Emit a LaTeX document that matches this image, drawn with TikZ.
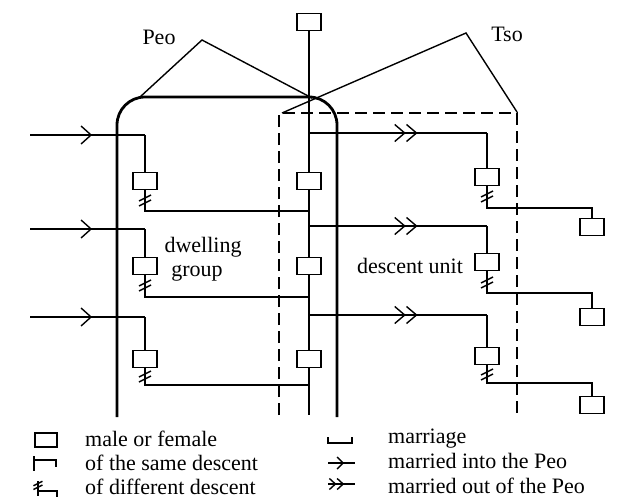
\documentclass[tikz,border=0pt]{standalone}
\usepackage{fontspec}
\setmainfont{Liberation Serif}
\usetikzlibrary{arrows.meta,decorations.markings,positioning}

\tikzset{
  person/.style={draw,line width=1.4pt,minimum width=24pt,minimum height=17pt,inner sep=0},
  kin/.style={line width=1.4pt},
  peoline/.style={line width=2.8pt,rounded corners=28pt},
  tsoline/.style={line width=2.2pt,dash pattern=on 12pt off 6pt},
  into/.style={kin,postaction={decorate},decoration={markings,
    mark=at position #1 with {\arrow{Straight Barb[length=10pt,width=18pt]}}}},
  outof/.style={kin,postaction={decorate},decoration={markings,
    mark=at position #1 with {\arrow{Straight Barb[length=10pt,width=17pt] Straight Barb[length=10pt,width=17pt]}}}},
  lginto/.style={kin,postaction={decorate},decoration={markings,
    mark=at position #1 with {\arrow{Straight Barb[length=6pt,width=12pt]}}}},
  lgout/.style={kin,postaction={decorate},decoration={markings,
    mark=at position #1 with {\arrow{Straight Barb[length=6pt,width=11pt] Straight Barb[length=6pt,width=11pt]}}}},
  lbl/.style={font=\fontsize{22}{26}\selectfont,inner sep=0},
  diff/.pic={\draw[kin] (-6,1) -- (6,-5); \draw[kin] (-6,6) -- (6,0);}
}

\begin{document}
\begin{tikzpicture}[x=1pt,y=-1pt]
\useasboundingbox (0,0) rectangle (618,503);
% Peo and Tso houses
\draw[kin] (140,97) -- (202,40) -- (312,98);
\draw[kin] (282,113) -- (466,33) -- (517,112);
\draw[peoline] (117,417) -- (117,97) -- (337,97) -- (337,417);
\draw[tsoline] (279,415) -- (279,113) -- (517,113) -- (517,415);
\node[lbl,anchor=base] (peo) at (159,45) {Peo};
\node[lbl,anchor=base] (tso) at (507,42) {Tso};

% descent line of the Peo
\node[person] (top) at (309,22) {};
\node[person] (c1) at (309,181) {};
\node[person] (c2) at (309,266) {};
\node[person] (c3) at (309,359) {};
\coordinate (cbot) at (309,415);
\draw[kin] (top) -- (c1) -- (c2) -- (c3) -- (cbot);

% married into the Peo
\coordinate (in1) at (30,135);
\coordinate (in2) at (30,229);
\coordinate (in3) at (30,317);
\node[person] (l1) at (145,181) {};
\node[person] (l2) at (145,266) {};
\node[person] (l3) at (145,359) {};
\coordinate (lk1) at (145,211);
\coordinate (lk2) at (145,297);
\coordinate (lk3) at (145,385);
\draw[into=0.54] (in1) -- (l1 |- in1);
\draw[into=0.54] (in2) -- (l2 |- in2);
\draw[into=0.54] (in3) -- (l3 |- in3);
\draw[kin] (l1 |- in1) -- (l1) -- (lk1) -- (c1 |- lk1);
\draw[kin] (l2 |- in2) -- (l2) -- (lk2) -- (c2 |- lk2);
\draw[kin] (l3 |- in3) -- (l3) -- (lk3) -- (c3 |- lk3);
\pic at (145,200) {diff};
\pic at (145,285) {diff};
\pic at (145,376) {diff};

% married out of the Peo
\coordinate (oj1) at (309,133);
\coordinate (oj2) at (309,226);
\coordinate (oj3) at (309,315);
\node[person] (r1) at (487,177) {};
\node[person] (r2) at (487,262) {};
\node[person] (r3) at (487,356) {};
\coordinate (rk1) at (487,208);
\coordinate (rk2) at (487,293);
\coordinate (rk3) at (487,383);
\node[person] (f1) at (592,227) {};
\node[person] (f2) at (592,317) {};
\node[person] (f3) at (592,405) {};
\draw[outof=0.61] (oj1) -- (r1 |- oj1);
\draw[outof=0.61] (oj2) -- (r2 |- oj2);
\draw[outof=0.61] (oj3) -- (r3 |- oj3);
\draw[kin] (r1 |- oj1) -- (r1) -- (rk1) -| (f1);
\draw[kin] (r2 |- oj2) -- (r2) -- (rk2) -| (f2);
\draw[kin] (r3 |- oj3) -- (r3) -- (rk3) -| (f3);
\pic at (487,196) {diff};
\pic at (487,282) {diff};
\pic at (487,374) {diff};

\node[lbl,anchor=base] (dwell) at (203,252) {dwelling};
\node[lbl,anchor=base] (group) at (197,276) {group};
\node[lbl,anchor=base] (unit) at (410,273) {descent unit};

% legend
\node[person,minimum width=22pt,minimum height=14pt] (lgbox) at (46,440) {};
\draw[kin] (34,456) -- (34,471);
\draw[kin] (34,460) -- (56,460) -- (56,467);
\draw[kin] (38,481) -- (38,496);
\draw[kin] (38,491) -- (57,491) -- (57,497);
\pic[scale=0.75] at (38,485) {diff};
\node[lbl,anchor=base west] (lg1) at (85,446) {male or female};
\node[lbl,anchor=base west] (lg2) at (85,470) {of the same descent};
\node[lbl,anchor=base west] (lg3) at (85,494) {of different descent};
\draw[kin] (328,437) -- (328,443) -- (352,443) -- (352,437);
\draw[lginto=0.6] (328,463) -- (355,463);
\draw[lgout=0.6] (328,484) -- (355,484);
\node[lbl,anchor=base west] (lg4) at (388,443) {marriage};
\node[lbl,anchor=base west] (lg5) at (388,468) {married into the Peo};
\node[lbl,anchor=base west] (lg6) at (388,493) {married out of the Peo};
\end{tikzpicture}
\end{document}
